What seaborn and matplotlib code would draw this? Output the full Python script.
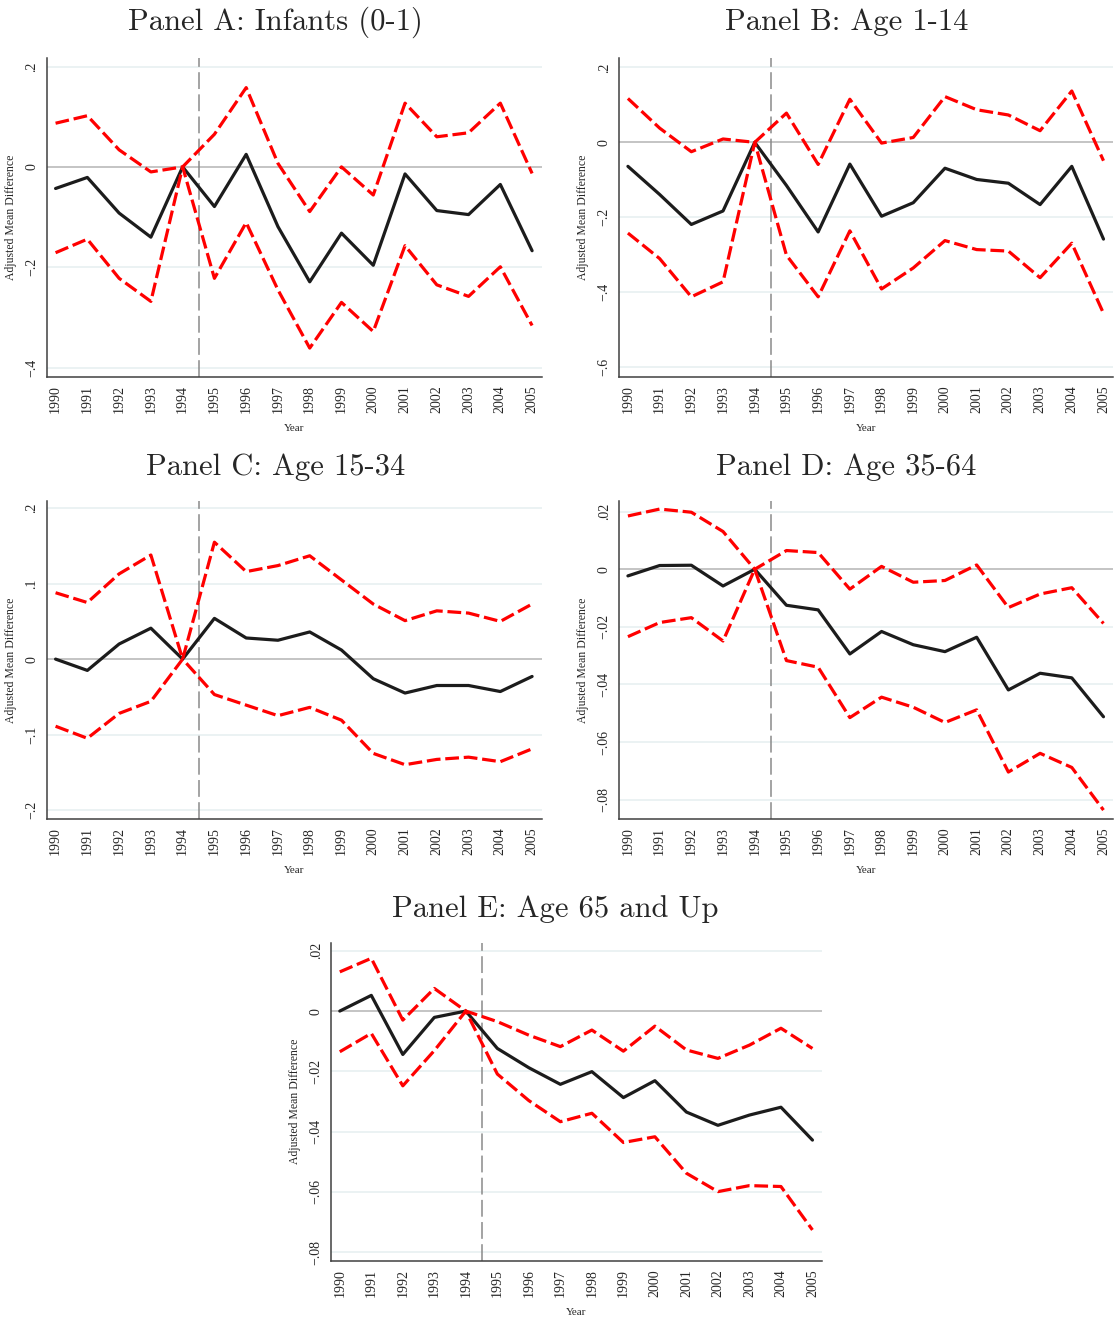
import pandas as pd
import matplotlib
matplotlib.use("Agg")
import matplotlib.pyplot as plt
import seaborn as sns

# years on the x axis
years = list(range(1990, 2006))

# Panel A: Infants (0-1)
a_est = [-0.043, -0.021, -0.092, -0.140, 0.0, -0.079, 0.025, -0.119, -0.229, -0.132, -0.196, -0.014, -0.087, -0.095, -0.035, -0.167]
a_hi = [0.087, 0.102, 0.034, -0.010, 0.0, 0.065, 0.158, 0.007, -0.089, 0.0, -0.056, 0.127, 0.060, 0.068, 0.127, -0.013]
a_lo = [-0.171, -0.144, -0.222, -0.268, 0.0, -0.222, -0.111, -0.245, -0.361, -0.270, -0.328, -0.157, -0.235, -0.258, -0.199, -0.316]

# Panel B: Age 1-14
b_est = [-0.064, -0.139, -0.219, -0.183, 0.0, -0.115, -0.239, -0.058, -0.197, -0.161, -0.069, -0.099, -0.109, -0.166, -0.064, -0.258]
b_hi = [0.117, 0.038, -0.025, 0.009, 0.0, 0.078, -0.059, 0.115, -0.002, 0.013, 0.122, 0.087, 0.073, 0.031, 0.137, -0.049]
b_lo = [-0.242, -0.310, -0.412, -0.372, 0.0, -0.301, -0.412, -0.236, -0.391, -0.335, -0.262, -0.286, -0.290, -0.361, -0.269, -0.456]

# Panel C: Age 15-34
c_est = [0.0, -0.015, 0.020, 0.041, 0.0, 0.054, 0.028, 0.025, 0.036, 0.012, -0.026, -0.045, -0.035, -0.035, -0.043, -0.023]
c_hi = [0.088, 0.075, 0.113, 0.138, 0.0, 0.155, 0.116, 0.124, 0.137, 0.105, 0.073, 0.051, 0.064, 0.061, 0.050, 0.073]
c_lo = [-0.089, -0.105, -0.072, -0.056, 0.0, -0.047, -0.061, -0.075, -0.064, -0.081, -0.125, -0.140, -0.133, -0.130, -0.136, -0.119]

# Panel D: Age 35-64
d_est = [-0.0023, 0.0013, 0.0014, -0.0058, 0.0, -0.0125, -0.0141, -0.0294, -0.0216, -0.0262, -0.0286, -0.0236, -0.0419, -0.0361, -0.0377, -0.0512]
d_hi = [0.0185, 0.0209, 0.0198, 0.0131, 0.0, 0.0065, 0.0058, -0.0069, 0.0010, -0.0045, -0.0039, 0.0015, -0.0133, -0.0086, -0.0064, -0.0188]
d_lo = [-0.0234, -0.0185, -0.0168, -0.0249, 0.0, -0.0317, -0.0340, -0.0515, -0.0444, -0.0479, -0.0532, -0.0488, -0.0704, -0.0639, -0.0688, -0.0836]

# Panel E: Age 65 and Up
e_est = [0.0, 0.0052, -0.0144, -0.0021, 0.0, -0.0124, -0.0188, -0.0243, -0.0201, -0.0287, -0.0231, -0.0335, -0.0379, -0.0345, -0.0319, -0.0428]
e_hi = [0.0130, 0.0175, -0.0030, 0.0075, 0.0, -0.0035, -0.0080, -0.0118, -0.0063, -0.0133, -0.0050, -0.0129, -0.0157, -0.0113, -0.0057, -0.0124]
e_lo = [-0.0135, -0.0074, -0.0248, -0.0131, 0.0, -0.0209, -0.0297, -0.0367, -0.0339, -0.0436, -0.0417, -0.0538, -0.0599, -0.0579, -0.0582, -0.0726]

# y ticks and Stata-style labels
a_ticks = [0.2, 0.0, -0.2, -0.4]
a_labels = [".2", "0", "\u2212.2", "\u2212.4"]
b_ticks = [0.2, 0.0, -0.2, -0.4, -0.6]
b_labels = [".2", "0", "\u2212.2", "\u2212.4", "\u2212.6"]
c_ticks = [0.2, 0.1, 0.0, -0.1, -0.2]
c_labels = [".2", ".1", "0", "\u2212.1", "\u2212.2"]
d_ticks = [0.02, 0.0, -0.02, -0.04, -0.06, -0.08]
d_labels = [".02", "0", "\u2212.02", "\u2212.04", "\u2212.06", "\u2212.08"]
e_ticks = [0.02, 0.0, -0.02, -0.04, -0.06, -0.08]
e_labels = [".02", "0", "\u2212.02", "\u2212.04", "\u2212.06", "\u2212.08"]

panels = [
    dict(title="Panel A: Infants (0-1)", est=a_est, hi=a_hi, lo=a_lo, ticks=a_ticks, labels=a_labels,
         ylim=(-0.418, 0.217), rect=[0.0419, 0.7142, 0.4443, 0.2418], tx=0.247, ty=1 - 22 / 1318),
    dict(title="Panel B: Age 1-14", est=b_est, hi=b_hi, lo=b_lo, ticks=b_ticks, labels=b_labels,
         ylim=(-0.625, 0.225), rect=[0.5557, 0.7142, 0.4434, 0.2418], tx=0.760, ty=1 - 22 / 1318),
    dict(title="Panel C: Age 15-34", est=c_est, hi=c_hi, lo=c_lo, ticks=c_ticks, labels=c_labels,
         ylim=(-0.212, 0.210), rect=[0.0419, 0.3786, 0.4443, 0.2415], tx=0.247, ty=1 - 467 / 1318),
    dict(title="Panel D: Age 35-64", est=d_est, hi=d_hi, lo=d_lo, ticks=d_ticks, labels=d_labels,
         ylim=(-0.0867, 0.0238), rect=[0.5557, 0.3786, 0.4434, 0.2415], tx=0.760, ty=1 - 467 / 1318),
    dict(title="Panel E: Age 65 and Up", est=e_est, hi=e_hi, lo=e_lo, ticks=e_ticks, labels=e_labels,
         ylim=(-0.0828, 0.0227), rect=[0.2971, 0.0435, 0.4407, 0.2413], tx=0.498, ty=1 - 909 / 1318),
]

sns.set_style("white")
plt.rcParams['font.family'] = ['Liberation Serif', 'DejaVu Serif']
plt.rcParams['axes.unicode_minus'] = True

fig = plt.figure(figsize=(11.14, 13.18), dpi=100)

for p in panels:
    ax = fig.add_axes(p['rect'])
    df = pd.DataFrame({
        'year': years * 3,
        'value': p['est'] + p['hi'] + p['lo'],
        'series': ['est'] * 16 + ['hi'] * 16 + ['lo'] * 16,
    })

    # reference lines first so data draws on top
    for t in p['ticks']:
        if t != 0:
            ax.axhline(t, color='#e8f0f1', lw=1.2, zorder=0)
    ax.axhline(0, color='#b4b4b4', lw=1.1, zorder=1)
    ax.axvline(1994.5, color='#8a8a8a', lw=1.1, dashes=(11, 3.5), zorder=1)

    sns.lineplot(
        data=df, x='year', y='value', hue='series', style='series',
        palette={'est': '#1c1c1c', 'hi': '#ff0000', 'lo': '#ff0000'},
        dashes={'est': '', 'hi': (4.3, 1.5), 'lo': (4.3, 1.5)},
        linewidth=2.3, legend=False, ax=ax, zorder=3
    )

    ax.set_xlim(1989.72, 2005.3)
    ax.set_ylim(*p['ylim'])
    ax.set_xticks(years)
    ax.set_xticklabels([str(y) for y in years], rotation=90, fontsize=10)
    ax.set_yticks(p['ticks'])
    ax.set_yticklabels(p['labels'], rotation=90, fontsize=10, va='center')
    ax.tick_params(axis='both', direction='out', length=4, width=1, color='#404040', pad=2)
    ax.set_xlabel('Year', fontsize=8, labelpad=8)
    ax.set_ylabel('Adjusted Mean Difference', fontsize=8.5, labelpad=6)

    for side in ['top', 'right']:
        ax.spines[side].set_visible(False)
    for side in ['left', 'bottom']:
        ax.spines[side].set_color('#404040')
        ax.spines[side].set_linewidth(1.1)

    fig.text(p['tx'], p['ty'], p['title'], ha='center', va='center', fontsize=22,
             family=['cmr10', 'DejaVu Serif'])

fig.savefig('out.png', dpi=100, facecolor='white')
